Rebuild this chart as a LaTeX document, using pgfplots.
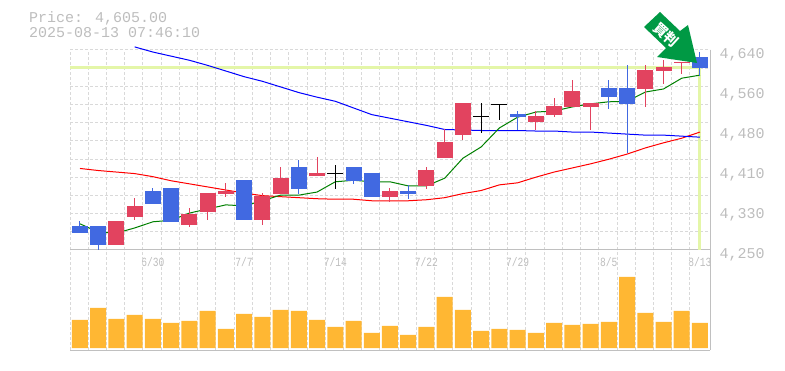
\documentclass[border=0pt]{standalone}
\usepackage{pgfplots}
\usepackage{pgfplotstable}
\usepackage{graphicx}
\usepackage{fontspec}
\setmainfont{Liberation Mono}
\newfontfamily\cjk{Noto Sans CJK JP}
\pgfplotsset{compat=1.18}
\definecolor{upc}{HTML}{E2435F}
\definecolor{dnc}{HTML}{4169E1}
\definecolor{volc}{HTML}{FFB733}
\definecolor{gridc}{HTML}{D9D9D9}
\definecolor{axc}{HTML}{C0C0C0}
\definecolor{txtc}{HTML}{BDBDBD}
\definecolor{hil}{HTML}{E4F6A8}
\definecolor{arr}{HTML}{009944}
% candles: index, body low, body high, low, high (prices)
\pgfplotstableread{
i bl bh lo hi
2 4260 4307 4260 4307
3 4314 4336 4309 4351
6 4299 4320 4295 4332
7 4324 4361 4309 4361
8 4359 4365 4353 4381
10 4309 4355 4299 4361
11 4359 4390 4359 4412
13 4394 4400 4394 4431
17 4353 4365 4344 4371
19 4375 4406 4369 4412
20 4429 4461 4429 4486
21 4474 4537 4464 4537
25 4500 4511 4484 4521
26 4513 4531 4509 4546
27 4529 4560 4529 4582
28 4529 4537 4484 4537
31 4564 4601 4529 4611
32 4599 4607 4574 4620
33 4615 4617 4593 4617
}\upt
\pgfplotstableread{
i bl bh lo hi
0 4284 4297 4284 4307
1 4260 4297 4250 4297
4 4340 4365 4340 4371
5 4305 4371 4305 4371
9 4309 4387 4309 4387
12 4369 4412 4359 4425
15 4385 4412 4379 4412
16 4353 4400 4353 4400
18 4359 4365 4349 4377
24 4509 4515 4484 4521
29 4548 4566 4525 4582
30 4535 4566 4439 4611
34 4605 4626 4589 4636
}\dnt
\pgfplotstableread{
i bl bh lo hi
14 4399.5 4400.5 4369 4416
22 4510.5 4511.5 4478 4537
23 4534.5 4535.5 4503 4535.5
}\dojit
\pgfplotstableread{
i y
0 4301
1 4285
2 4283
3 4293
4 4305
5 4308
6 4322
7 4330
8 4338
9 4336
10 4346
11 4357
12 4357
13 4363
14 4383
15 4386
16 4383
17 4383
18 4375
19 4375
20 4390
21 4429
22 4451
23 4488
24 4509
25 4519
26 4521
27 4529
28 4535
29 4539
30 4540
31 4558
32 4564
33 4585
34 4591
}\gma
\pgfplotstableread{
i y
3 4646
4 4636
5 4628
6 4620
7 4610
8 4599
9 4588
10 4579
11 4568
12 4557
13 4548
14 4540
15 4527
16 4514
17 4507
18 4500
19 4493
20 4485
21 4484
22 4483
23 4483
24 4483
25 4482
26 4482
27 4480
28 4480
29 4478
30 4476
31 4474
32 4474
33 4472
34 4470
}\bma
\pgfplotstableread{
i y
0 4409
1 4405
2 4402
3 4399
4 4393
5 4385
6 4379
7 4373
8 4367
9 4361
10 4356
11 4354
12 4352
13 4350
14 4349
15 4349
16 4346
17 4346
18 4346
19 4348
20 4352
21 4360
22 4366
23 4377
24 4381
25 4392
26 4402
27 4410
28 4418
29 4427
30 4437
31 4449
32 4459
33 4468
34 4480
}\rma
\pgfplotstableread{
i v
0 28
1 40
2 29
3 33
4 29
5 25
6 27
7 37
8 19
9 34
10 31
11 38
12 37
13 28
14 21
15 27
16 15
17 22
18 13
19 21
20 51
21 38
22 17
23 19
24 18
25 15
26 25
27 23
28 24
29 26
30 71
31 35
32 26
33 37
34 25
}\volt
\newcommand\gridx{-0.548,0.452,1.452,2.452,3.452,4.452,5.452,6.452,7.452,8.452,9.452,10.452,11.452,12.452,13.452,14.452,15.452,16.452,17.452,18.452,19.452,20.452,21.452,22.452,23.452,24.452,25.452,26.452,27.452,28.452,29.452,30.452,31.452,32.452,33.452}
\pgfplotsset{candle/.style={forget plot, mark=none, draw=none,
  error bars/.cd, y dir=both, y explicit, error mark=none,
  error bar style={color=#1, line width=16pt}},
 wick/.style={forget plot, mark=none, draw=none,
  error bars/.cd, y dir=both, y explicit, error mark=none,
  error bar style={color=#1, line width=1pt}}}
\begin{document}
\begin{tikzpicture}[x=1pt,y=1pt]
\path (0,0) rectangle (785,370);
\begin{axis}[at={(70pt,120pt)},anchor=south west,scale only axis,width=640pt,height=200pt,
  xmin=-0.548,xmax=34.55,ymin=4250,ymax=4640,clip=false,
  axis x line=bottom,axis y line=right,axis line style={-,color=axc,line width=1pt},
  xtick=\gridx,xticklabels={},ytick={4250,4285.45,4320.9,4356.36,4391.8,4427.3,4462.7,4498.2,4533.6,4569.1,4604.5,4640},yticklabels={},
  grid=major,grid style={gridc,line width=1pt,dash pattern=on 3pt off 2pt},
  tick style={draw=none},major tick length=0pt,
  extra x ticks={4,9,14,19,24,29,34},
  extra x tick labels={\scalebox{1}[1.3]{6/30},\scalebox{1}[1.3]{7/7},\scalebox{1}[1.3]{7/14},\scalebox{1}[1.3]{7/22},\scalebox{1}[1.3]{7/29},\scalebox{1}[1.3]{8/5},\scalebox{1}[1.3]{8/13}},
  extra x tick style={grid=none,xticklabel style={font=\fontsize{9.6}{10}\selectfont,text=txtc,yshift=-4pt}},
  extra y ticks={4250,4328,4406,4484,4562,4640},
  extra y tick labels={{4,250},{4,330},{4,410},{4,480},{4,560},{4,640}},
  extra y tick style={grid=none,yticklabel style={font=\fontsize{15}{15}\selectfont,text=txtc,xshift=6pt,yshift=-5pt}},
]
\addplot[hil,line width=3pt,forget plot] coordinates {(-0.548,4606) (34,4606) (34,4250)};
\addplot[red,line width=1pt,forget plot] table[x=i,y=y] {\rma};
\addplot[blue,line width=1pt,forget plot] table[x=i,y=y] {\bma};
\addplot[green!50!black,line width=1pt,forget plot] table[x=i,y=y] {\gma};
\addplot+[wick=upc] table[x=i,y expr=(\thisrow{lo}+\thisrow{hi})/2,y error expr=(\thisrow{hi}-\thisrow{lo})/2] {\upt};
\addplot+[candle=upc] table[x=i,y expr=(\thisrow{bl}+\thisrow{bh})/2,y error expr=(\thisrow{bh}-\thisrow{bl})/2] {\upt};
\addplot+[wick=dnc] table[x=i,y expr=(\thisrow{lo}+\thisrow{hi})/2,y error expr=(\thisrow{hi}-\thisrow{lo})/2] {\dnt};
\addplot+[candle=dnc] table[x=i,y expr=(\thisrow{bl}+\thisrow{bh})/2,y error expr=(\thisrow{bh}-\thisrow{bl})/2] {\dnt};
\addplot+[wick=black] table[x=i,y expr=(\thisrow{lo}+\thisrow{hi})/2,y error expr=(\thisrow{hi}-\thisrow{lo})/2] {\dojit};
\addplot+[candle=black] table[x=i,y expr=(\thisrow{bl}+\thisrow{bh})/2,y error expr=(\thisrow{bh}-\thisrow{bl})/2] {\dojit};
\end{axis}
\begin{axis}[at={(70pt,20pt)},anchor=south west,scale only axis,width=640pt,height=100pt,
  xmin=-0.548,xmax=34.55,ymin=-2,ymax=98,
  axis x line=bottom,axis y line=right,axis line style={-,color=axc,line width=1pt},
  xtick=\gridx,xticklabels={},ytick=\empty,
  xmajorgrids,grid style={gridc,line width=1pt,dash pattern=on 3pt off 2pt},
  tick style={draw=none},major tick length=0pt,
]
\addplot[ybar,bar width=16pt,fill=volc,draw=none,forget plot] table[x=i,y=v] {\volt};
\end{axis}
\node[anchor=base west,text=txtc,font=\fontsize{15}{15}\selectfont,inner sep=0pt] at (29,347) {Price: 4,605.00};
\node[anchor=base west,text=txtc,font=\fontsize{15}{15}\selectfont,inner sep=0pt] at (29,332) {2025-08-13 07:46:10};
\fill[arr] (660,358)--(680,339)--(688,345)--(697,307)--(657,313)--(666,322)--(644,343)--cycle;
\node[white,rotate=-42,font=\cjk\fontsize{14}{14}\selectfont\bfseries,inner sep=0pt] at (666.5,335.5) {買判};
\end{tikzpicture}
\end{document}
